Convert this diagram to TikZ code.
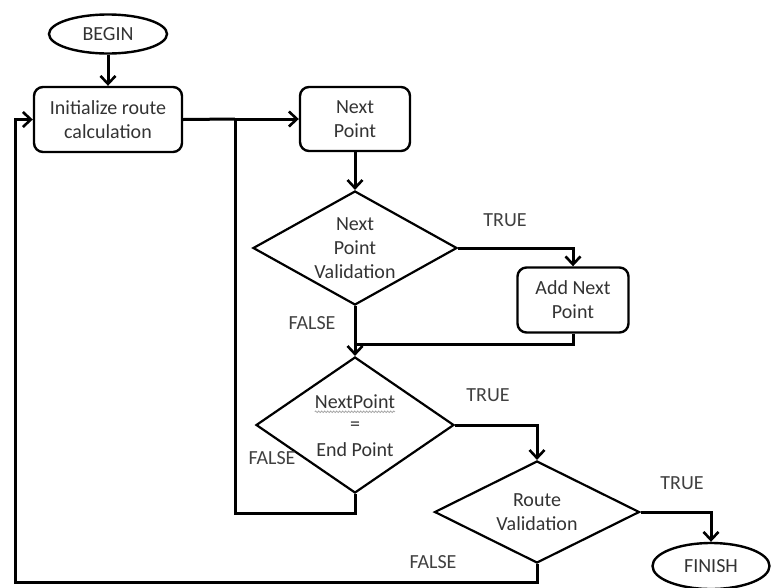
\documentclass[tikz,border=0pt]{standalone}
\usepackage{fontspec}
\setmainfont{Carlito}
\usetikzlibrary{shapes.geometric,arrows.meta,decorations.pathmorphing}
\begin{document}
\begin{tikzpicture}[x=1pt,y=-1pt,
  every node/.style={font=\fontsize{20}{24}\selectfont, text=black!80, inner sep=0pt},
  box/.style={draw=black, line width=2.4pt, rounded corners=9pt, align=center},
  term/.style={draw=black, ellipse, line width=2.4pt},
  dia/.style={draw=black, diamond, line width=2.2pt},
  link/.style={line width=3pt},
  flow/.style={line width=3pt, -{Straight Barb[length=8pt,width=15pt,line width=2.6pt]}},
  lbl/.style={text=black!75}]
\useasboundingbox (0,0) rectangle (771,587);

% shapes
\node[term, minimum width=118pt, minimum height=39pt] (begin) at (108,34) {BEGIN};
\node[box, minimum width=148pt, minimum height=65pt] (init) at (108,119.5) {Initialize route\\calculation};
\node[box, minimum width=110pt, minimum height=64pt] (next) at (355,119) {Next\\Point};
\node[dia, minimum width=204pt, minimum height=114pt] (d1) at (355,248) {};
\node[align=center] (d1t) at (d1) {Next\\Point\\Validation};
\node[box, minimum width=111pt, minimum height=65pt] (add) at (573,300) {Add Next\\Point};
\node[dia, minimum width=198pt, minimum height=136pt] (d2) at (355,425) {};
\node (d2a) at (355,402) {NextPoint};
\node (d2b) at (355,426) {=};
\node (d2c) at (355,450) {End Point};
\node[dia, minimum width=205pt, minimum height=102pt] (d3) at (537,512) {};
\node[align=center] (d3t) at (d3) {Route\\Validation};
\node[term, minimum width=117pt, minimum height=46pt] (finish) at (711,566) {FINISH};

% spell-check squiggle under the merged word
\draw[gray!70, line width=0.8pt, decorate, decoration={snake, amplitude=0.8pt, segment length=3pt}]
  ([yshift=-3pt]d2a.base west) -- ([yshift=-3pt]d2a.base east);

% branch labels
\node[lbl] (t1) at (505,220) {TRUE};
\node[lbl] (f1) at (312,323) {FALSE};
\node[lbl] (t2) at (488,395) {TRUE};
\node[lbl] (f2) at (272,458) {FALSE};
\node[lbl] (t3) at (682,483) {TRUE};
\node[lbl] (f3) at (433,562) {FALSE};

% routing points
\coordinate (j1) at (235,119);
\coordinate (m1) at (355,344);
\coordinate (c2) at (235,513);
\coordinate (c3) at (15,582);

% connectors
\draw[flow] (begin) -- (init);
\draw[link] (init.east) -- (j1);
\draw[flow] (j1) -- (next.west);
\draw[flow] (next) -- (d1);
\draw[flow] (d1.east) -| (add.north);
\draw[link] (add.south) |- (m1);
\draw[flow] (d1.south) -- (d2.north);
\draw[flow] (d2.east) -| (d3.north);
\draw[link] (d2.south) |- (c2) -- (j1);
\draw[flow] (d3.east) -| (finish.north);
\draw[flow] (d3.south) |- (c3) |- (init.west);
\end{tikzpicture}
\end{document}
